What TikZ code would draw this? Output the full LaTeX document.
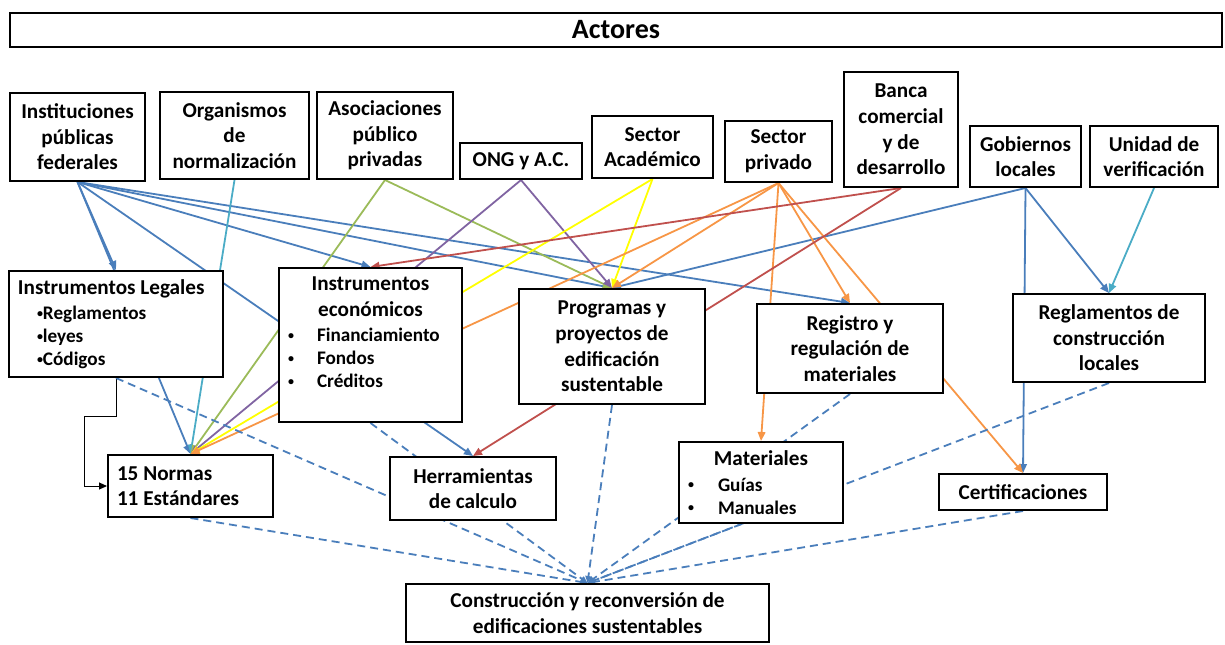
\documentclass[tikz,border=0pt]{standalone}
\usepackage{fontspec}
\setmainfont{Carlito}
\usetikzlibrary{arrows.meta,backgrounds}

\definecolor{azul}{RGB}{74,126,187}
\definecolor{celeste}{RGB}{75,172,198}
\definecolor{verde}{RGB}{155,187,89}
\definecolor{morado}{RGB}{128,100,162}
\definecolor{amarillo}{RGB}{255,255,0}
\definecolor{naranja}{RGB}{247,150,70}
\definecolor{rojo}{RGB}{192,80,77}
\newcommand{\chico}{\fontsize{9.6}{11.5}\selectfont}
\newcommand{\punto}{\raisebox{0.25ex}{\fontsize{6}{7}\selectfont•}}

\begin{document}
\begin{tikzpicture}
  [x=0.5pt,y=-0.5pt,
   every node/.style={draw,fill=white,line width=1pt,inner sep=0pt,align=center,
     font=\fontsize{10.6}{12.8}\selectfont\bfseries},
   sz/.style 2 args={minimum width=#1*0.5pt,minimum height=#2*0.5pt},
   lnk/.style={line width=0.9pt,-{Triangle[length=4.5pt,width=3.8pt]}},
   punteada/.style={azul,line width=0.9pt,dash pattern=on 4pt off 2.5pt,
     -{Triangle[length=3.5pt,width=3pt]}}]
  \useasboundingbox (0,0) rectangle (1225,644);

  \node[sz={1212}{34},font=\fontsize{14}{16}\selectfont\bfseries] (act) at (616,30) {Actores};

  % actores
  \node[sz={135}{88}] (ipf) at (77.5,137) {Instituciones\\públicas\\federales};
  \node[sz={149}{87}] (onorm) at (234.5,135.5) {Organismos\\de\\normalización};
  \node[sz={136}{87}] (asoc) at (385,135.5) {Asociaciones\\público\\privadas};
  \node[sz={122}{36}] (ong) at (521,161) {ONG y A.C.};
  \node[sz={121}{62}] (acad) at (652.5,147) {Sector\\Académico};
  \node[sz={107}{61}] (priv) at (778.5,151.5) {Sector\\privado};
  \node[sz={114}{115}] (banca) at (901,129.5) {Banca\\comercial\\y de\\desarrollo};
  \node[sz={111}{61}] (gob) at (1025.5,156.5) {Gobiernos\\locales};
  \node[sz={128}{61}] (uver) at (1154,156.5) {Unidad de\\verificación};

  % instrumentos
  \node[sz={214}{106}] (leg) at (116,324)
    {\makebox[98pt][l]{Instrumentos Legales}\\
     \makebox[98pt][l]{\chico\hspace{9.5pt}\punto Reglamentos}\\[-1.3pt]
     \makebox[98pt][l]{\chico\hspace{9.5pt}\punto leyes}\\[-1.3pt]
     \makebox[98pt][l]{\chico\hspace{9.5pt}\punto Códigos}};
  \node[sz={183}{154}] (econ) at (370.5,345)
    {Instrumentos\\económicos\\
     \makebox[82.5pt][l]{\chico\makebox[14.5pt][l]{\punto}Financiamiento}\\[-1.3pt]
     \makebox[82.5pt][l]{\chico\makebox[14.5pt][l]{\punto}Fondos}\\[-1.3pt]
     \makebox[82.5pt][l]{\chico\makebox[14.5pt][l]{\punto}Créditos}\\ \mbox{}};
  \node[sz={186}{115}] (prog) at (612,346.5) {Programas y\\proyectos de\\edificación\\sustentable};
  \node[sz={186}{89}] (reg) at (850,348.5) {Registro y\\regulación de\\materiales};
  \node[sz={192}{88}] (regl) at (1109,338) {Reglamentos de\\construcción\\locales};

  % herramientas
  \node[sz={165}{62}] (norm) at (190.5,486)
    {\makebox[73.5pt][l]{15 Normas}\\\makebox[73.5pt][l]{11 Estándares}};
  \node[sz={166}{63}] (herr) at (473,488.5) {Herramientas\\de calculo};
  \node[sz={164}{81}] (mat) at (761,482.5)
    {Materiales\\
     \makebox[73pt][l]{\chico\makebox[15pt][l]{\punto}Guías}\\[-1.3pt]
     \makebox[73pt][l]{\chico\makebox[15pt][l]{\punto}Manuales}};
  \node[sz={168}{36}] (cert) at (1023,492) {Certificaciones};
  \node[sz={363}{58}] (cons) at (587.5,613) {Construcción y reconversión de\\edificaciones sustentables};

  \begin{scope}[on background layer]
  \foreach \from/\to in {ipf/leg,ipf/norm,ipf/herr,ipf/econ,ipf/prog,ipf/reg,gob/prog,gob/regl,gob/cert}
    \draw[lnk,azul] (\from.south) -- (\to.north);
  \foreach \from/\to in {onorm/norm,uver/regl}
    \draw[lnk,celeste] (\from.south) -- (\to.north);
  \foreach \to in {norm,prog}
    \draw[lnk,verde] (asoc.south) -- (\to.north);
  \foreach \to in {norm,prog}
    \draw[lnk,morado] (ong.south) -- (\to.north);
  \foreach \to in {norm,prog}
    \draw[lnk,amarillo] (acad.south) -- (\to.north);
  \foreach \to in {norm,prog,mat,reg,cert}
    \draw[lnk,naranja] (priv.south) -- (\to.north);
  \foreach \to in {econ,herr}
    \draw[lnk,rojo] (banca.south) -- (\to.north);

  \draw[line width=0.5pt,-{Triangle[length=4pt,width=3.5pt]}] (leg.south) |- (84,416) |- (norm.west);

  \foreach \from/\a in {leg/south,norm/south,econ/south,prog/south,reg/south,mat/245,regl/south,cert/south}
    \draw[punteada] (\from.\a) -- (cons.north);
  \end{scope}

\end{tikzpicture}
\end{document}
